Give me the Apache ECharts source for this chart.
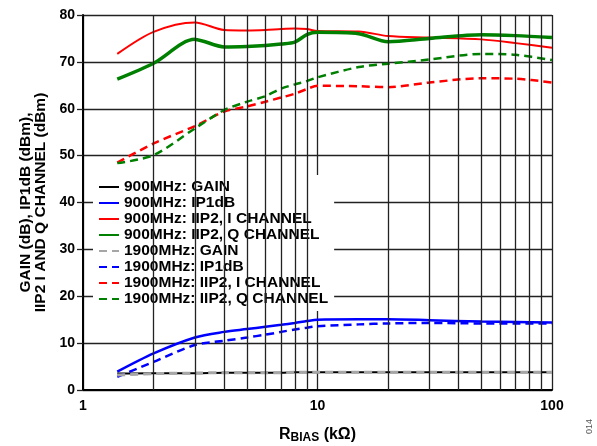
<!DOCTYPE html>
<html>
<head>
<meta charset="utf-8">
<script src="https://cdn.jsdelivr.net/npm/echarts@6/dist/echarts.min.js"></script>
<style>html,body{margin:0;padding:0;background:#fff}#c{width:597px;height:446px}</style>
</head>
<body>
<div id="c"></div>
<script>
const rBias = [1.4, 2, 3, 4, 5, 6, 7, 8, 9, 10, 15, 20, 30, 50, 70, 100];
const gain900 = [3.5, 3.6, 3.6, 3.7, 3.7, 3.7, 3.7, 3.8, 3.8, 3.8, 3.8, 3.8, 3.8, 3.8, 3.8, 3.8];
const ip1db900 = [3.9, 7.8, 11.2, 12.4, 13.0, 13.5, 13.9, 14.3, 14.7, 15.0, 15.1, 15.1, 14.9, 14.6, 14.5, 14.4];
const iip2I900 = [71.7, 76.4, 78.4, 76.8, 76.7, 76.8, 77.0, 77.1, 77.0, 76.6, 76.5, 75.5, 75.2, 74.8, 74.0, 73.0];
const iip2Q900 = [66.3, 69.7, 74.8, 73.2, 73.3, 73.5, 73.8, 74.2, 75.8, 76.3, 76.0, 74.3, 75.0, 75.8, 75.6, 75.2];
const gain1900 = [3.2, 3.5, 3.6, 3.7, 3.7, 3.7, 3.7, 3.8, 3.8, 3.8, 3.8, 3.8, 3.8, 3.8, 3.8, 3.8];
const ip1db1900 = [2.8, 6.0, 9.6, 10.5, 11.2, 11.8, 12.4, 12.9, 13.3, 13.6, 14.0, 14.2, 14.3, 14.2, 14.2, 14.2];
const iip2I1900 = [48.5, 52.6, 56.3, 59.4, 60.5, 61.5, 62.4, 63.2, 64.2, 64.9, 64.8, 64.6, 65.6, 66.5, 66.4, 65.6];
const iip2Q1900 = [48.4, 50.1, 55.8, 59.7, 61.5, 62.7, 64.3, 65.2, 65.9, 66.7, 68.9, 69.6, 70.5, 71.7, 71.5, 70.4];
const yTicks = [0, 10, 20, 30, 40, 50, 60, 70, 80];
const xMinorGrid = [2, 3, 4, 5, 6, 7, 8, 9, 20, 30, 40, 50, 60, 70, 80, 90];

const FONT = "'Liberation Sans', Arial, sans-serif";
const pair = ys => rBias.map((x, i) => [x, ys[i]]);
const mk = (name, ys, color, width, dashed, z) => ({
  name, type: 'line', data: pair(ys), symbol: 'none', smooth: 0.3, z: z || 3,
  lineStyle: { color, width, type: dashed ? [8, 5] : 'solid' },
  itemStyle: { color }
});

const chart = echarts.init(document.getElementById('c'));
chart.setOption({
  animation: false,
  backgroundColor: '#fff',
  textStyle: { fontFamily: FONT },
  grid: { left: 83, right: 45, top: 15, bottom: 56, show: false, containLabel: false, outerBoundsMode: 'none' },
  xAxis: {
    type: 'log', logBase: 10, min: 1, max: 100,
    axisLine: { show: true, lineStyle: { color: '#000', width: 2 } },
    axisTick: { show: false },
    axisLabel: { color: '#000', fontSize: 14, fontWeight: 'bold', margin: 9, fontFamily: FONT },
    splitLine: { show: true, lineStyle: { color: '#222', width: 1.3 } },
    name: '{r|R}{s|BIAS}{r| (kΩ)}',
    nameLocation: 'middle', nameGap: 36,
    nameTextStyle: {
      rich: {
        r: { fontSize: 16, fontWeight: 'bold', color: '#000', fontFamily: FONT, lineHeight: 18 },
        s: { fontSize: 12, fontWeight: 'bold', color: '#000', fontFamily: FONT, lineHeight: 18, verticalAlign: 'bottom', padding: [8, 0, 0, 0] }
      }
    }
  },
  yAxis: {
    type: 'value', min: 0, max: 80, interval: 10,
    axisLine: { show: true, lineStyle: { color: '#000', width: 2 } },
    axisTick: { show: true, length: 6, lineStyle: { color: '#222', width: 1.3 } },
    axisLabel: { color: '#000', fontSize: 14, fontWeight: 'bold', margin: 8, fontFamily: FONT,
      formatter: v => yTicks.includes(v) ? String(v) : '' },
    splitLine: { show: true, lineStyle: { color: '#222', width: 1.3 } },
    name: 'GAIN (dB), IP1dB (dBm),\nIIP2 I AND Q CHANNEL (dBm)',
    nameLocation: 'middle', nameRotate: 90, nameGap: 29,
    nameTextStyle: { fontSize: 15.5, fontWeight: 'bold', color: '#000', lineHeight: 15, fontFamily: FONT }
  },
  legend: {
    orient: 'vertical', left: 93, top: 175, z: 5,
    backgroundColor: '#fff', padding: [4, 6, 4, 5],
    itemWidth: 20, itemHeight: 14, itemGap: 0,
    itemStyle: { opacity: 0 },
    textStyle: { fontSize: 15.5, fontWeight: 'bold', color: '#000', lineHeight: 15.6, fontFamily: FONT },
    data: ['900MHz: GAIN', '900MHz: IP1dB', '900MHz: IIP2, I CHANNEL', '900MHz: IIP2, Q CHANNEL',
           '1900MHz: GAIN', '1900MHz: IP1dB', '1900MHz: IIP2, I CHANNEL', '1900MHz: IIP2, Q CHANNEL']
  },
  graphic: [{
    type: 'text', left: 585, top: 419, rotation: Math.PI / 2,
    style: { text: '014', fontSize: 9, fill: '#555', fontFamily: FONT }
  }],
  series: [
    {
      name: 'grid', type: 'line', data: [[1, 0]], symbol: 'none', z: 1,
      lineStyle: { opacity: 0 }, silent: true,
      markLine: {
        silent: true, symbol: ['none', 'none'], label: { show: false },
        lineStyle: { color: '#222', width: 1.3, type: 'solid' },
        data: xMinorGrid.map(v => ({ xAxis: v }))
      }
    },
    mk('900MHz: GAIN', gain900, '#000000', 2, false),
    mk('900MHz: IP1dB', ip1db900, '#0000ff', 2.5, false),
    mk('900MHz: IIP2, I CHANNEL', iip2I900, '#ff0000', 2, false),
    mk('900MHz: IIP2, Q CHANNEL', iip2Q900, '#008000', 3.5, false),
    mk('1900MHz: GAIN', gain1900, '#a6a6a6', 3, true, 4),
    mk('1900MHz: IP1dB', ip1db1900, '#0000ff', 2.5, true),
    mk('1900MHz: IIP2, I CHANNEL', iip2I1900, '#ff0000', 2.5, true),
    mk('1900MHz: IIP2, Q CHANNEL', iip2Q1900, '#008000', 2.5, true)
  ]
});
</script>
</body>
</html>
